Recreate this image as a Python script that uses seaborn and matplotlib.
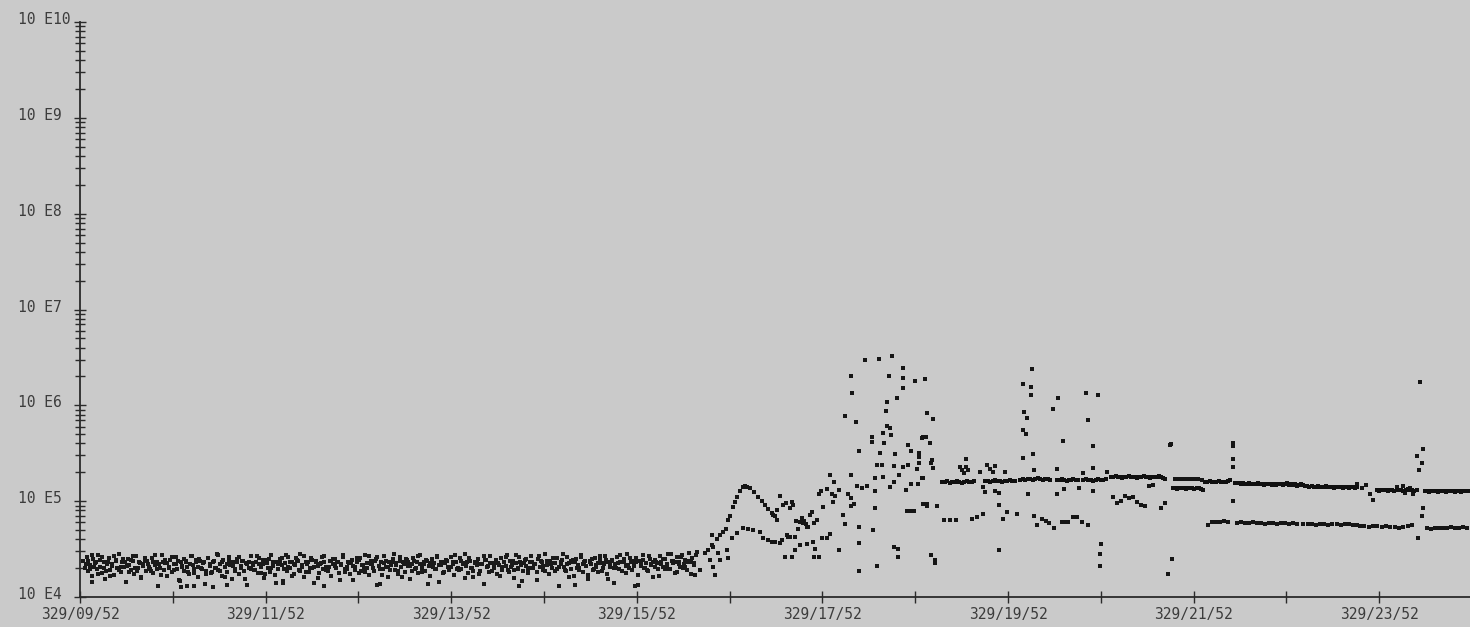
import numpy as np
import pandas as pd
import matplotlib
matplotlib.use('Agg')
import matplotlib.pyplot as plt
import matplotlib.transforms as mtransforms
import seaborn as sns
from matplotlib.ticker import FixedLocator, LogLocator, NullFormatter

# ---------------------------------------------------------------------------
# data: time in hours of day 329, flux stored as log10 exponents
# ---------------------------------------------------------------------------
t_first = 9 + 52 / 60
hour_labels = ['329/09/52', '', '329/11/52', '', '329/13/52', '', '329/15/52', '',
               '329/17/52', '', '329/19/52', '', '329/21/52', '', '329/23/52']
decade_labels = ['10 E4', '10 E5', '10 E6', '10 E7', '10 E8', '10 E9', '10 E10']

# quiet background band 09:54 - 16:31 (two interleaved channels)
quiet_log = [
    4.38, 4.30, 4.42, 4.27, 4.33, 4.22, 4.40, 4.35, 4.29, 4.44, 4.31, 4.25, 4.37, 4.19, 4.34, 4.41, 4.28, 4.32, 4.23, 4.39,
    4.30, 4.45, 4.26, 4.36, 4.31, 4.16, 4.40, 4.33, 4.28, 4.38, 4.24, 4.43, 4.30, 4.35, 4.21, 4.32, 4.39, 4.27, 4.34, 4.29,
    4.41, 4.25, 4.33, 4.37, 4.12, 4.30, 4.44, 4.28, 4.35, 4.22, 4.31, 4.39, 4.26, 4.34, 4.42, 4.29, 4.18, 4.36, 4.32, 4.27,
    4.38, 4.31, 4.24, 4.43, 4.33, 4.29, 4.36, 4.21, 4.40, 4.30, 4.35, 4.14, 4.27, 4.41, 4.32, 4.25, 4.37, 4.30, 4.45, 4.28,
    4.34, 4.22, 4.39, 4.31, 4.26, 4.42, 4.33, 4.19, 4.36, 4.29, 4.40, 4.24, 4.32, 4.38, 4.27, 4.35, 4.13, 4.30, 4.43, 4.33,
    4.28, 4.37, 4.25, 4.41, 4.31, 4.34, 4.20, 4.39, 4.30, 4.26, 4.44, 4.32, 4.23, 4.36, 4.29, 4.40, 4.33, 4.17, 4.35, 4.27,
    4.42, 4.30, 4.36, 4.24, 4.33, 4.39, 4.28, 4.45, 4.31, 4.21, 4.37, 4.34, 4.26, 4.41, 4.30, 4.15, 4.38, 4.32, 4.25, 4.35,
    4.29, 4.43, 4.31, 4.27, 4.38, 4.22, 4.34, 4.40, 4.30, 4.36, 4.18, 4.33, 4.42, 4.26, 4.31, 4.37, 4.24, 4.39, 4.32, 4.28,
    4.36, 4.25, 4.41, 4.33, 4.29, 4.44, 4.30, 4.23, 4.38, 4.34, 4.27, 4.40, 4.13, 4.32, 4.36, 4.29, 4.43, 4.31, 4.21, 4.37,
    4.33, 4.40, 4.28, 4.35, 4.24, 4.42, 4.31, 4.37, 4.26, 4.39, 4.32, 4.19, 4.34, 4.41, 4.29, 4.36, 4.25, 4.44, 4.30, 4.34,
    4.27, 4.38, 4.32, 4.22, 4.40, 4.35, 4.29, 4.43, 4.16, 4.33, 4.37, 4.26, 4.39, 4.31, 4.28, 4.42, 4.34, 4.23, 4.36, 4.30,
    4.41, 4.29, 4.35, 4.45, 4.32, 4.25, 4.38, 4.30, 4.21, 4.36, 4.33, 4.40, 4.27, 4.34, 4.14, 4.39, 4.31, 4.26, 4.43, 4.35,
    4.30, 4.37, 4.24, 4.33, 4.41, 4.28, 4.36, 4.32, 4.44, 4.26, 4.31, 4.38, 4.20, 4.35, 4.29, 4.42, 4.33, 4.27, 4.39, 4.32,
    4.25, 4.36, 4.43, 4.30, 4.34, 4.18, 4.40, 4.31, 4.37, 4.28, 4.45, 4.33, 4.24, 4.38, 4.30, 4.35, 4.27, 4.41, 4.12, 4.34,
    4.39, 4.31, 4.27, 4.42, 4.35, 4.29, 4.37, 4.22, 4.40, 4.33, 4.30, 4.44, 4.26, 4.36, 4.32, 4.19, 4.38, 4.34, 4.28, 4.41,
    4.33, 4.26, 4.40, 4.35, 4.30, 4.43, 4.24, 4.37, 4.31, 4.39, 4.15, 4.34, 4.42, 4.29, 4.36, 4.27, 4.40, 4.32, 4.45, 4.30,
    4.37, 4.28, 4.34, 4.41, 4.23, 4.38, 4.32, 4.44, 4.30, 4.35, 4.27, 4.40, 4.33, 4.21, 4.39, 4.36, 4.29, 4.43, 4.34, 4.31,
    4.40, 4.33, 4.45, 4.29, 4.38, 4.35, 4.25, 4.42, 4.37, 4.31, 4.44, 4.34, 4.39, 4.28, 4.46, 4.36, 4.41, 4.33, 4.44, 4.47,
]
quiet_log_b = [
    4.34, 4.38, 4.29, 4.44, 4.31, 4.36, 4.24, 4.39, 4.42, 4.30, 4.27, 4.37, 4.22, 4.34, 4.43, 4.38, 4.28, 4.31, 4.40, 4.36,
    4.32, 4.26, 4.39, 4.43, 4.30, 4.27, 4.36, 4.20, 4.34, 4.41, 4.38, 4.31, 4.27, 4.36, 4.44, 4.29, 4.34, 4.23, 4.37, 4.39,
    4.35, 4.30, 4.42, 4.28, 4.34, 4.38, 4.17, 4.31, 4.40, 4.37, 4.26, 4.34, 4.43, 4.25, 4.39, 4.31, 4.38, 4.29, 4.36, 4.24,
    4.41, 4.34, 4.26, 4.38, 4.30, 4.44, 4.27, 4.36, 4.21, 4.34, 4.39, 4.37, 4.32, 4.27, 4.36, 4.42, 4.30, 4.38, 4.19, 4.34,
    4.37, 4.29, 4.35, 4.28, 4.43, 4.34, 4.25, 4.39, 4.24, 4.35, 4.40, 4.30, 4.36, 4.15, 4.34, 4.38, 4.41, 4.29, 4.44, 4.31,
    4.36, 4.22, 4.34, 4.41, 4.38, 4.27, 4.33, 4.43, 4.26, 4.36, 4.30, 4.39, 4.31, 4.37, 4.20, 4.34, 4.42, 4.36, 4.28, 4.31,
    4.38, 4.40, 4.32, 4.36, 4.25, 4.34, 4.44, 4.29, 4.29, 4.35, 4.37, 4.18, 4.31, 4.41, 4.39, 4.27, 4.33, 4.26, 4.35, 4.43,
    4.34, 4.30, 4.38, 4.42, 4.29, 4.23, 4.35, 4.38, 4.31, 4.28, 4.36, 4.45, 4.33, 4.27, 4.38, 4.21, 4.34, 4.40, 4.36, 4.32,
    4.27, 4.38, 4.30, 4.43, 4.34, 4.26, 4.36, 4.39, 4.14, 4.35, 4.31, 4.29, 4.42, 4.33, 4.37, 4.25, 4.35, 4.38, 4.30, 4.31,
    4.36, 4.44, 4.29, 4.28, 4.38, 4.34, 4.20, 4.36, 4.41, 4.30, 4.27, 4.35, 4.37, 4.24, 4.34, 4.43, 4.39, 4.32, 4.35, 4.27,
    4.33, 4.39, 4.35, 4.22, 4.31, 4.36, 4.42, 4.28, 4.38, 4.33, 4.28, 4.44, 4.30, 4.36, 4.17, 4.35, 4.40, 4.29, 4.30, 4.37,
    4.34, 4.26, 4.43, 4.38, 4.32, 4.27, 4.38, 4.24, 4.34, 4.41, 4.35, 4.29, 4.31, 4.36, 4.45, 4.28, 4.34, 4.21, 4.38, 4.39,
    4.36, 4.30, 4.28, 4.42, 4.34, 4.38, 4.23, 4.36, 4.40, 4.29, 4.31, 4.35, 4.43, 4.27, 4.34, 4.39, 4.19, 4.35, 4.38, 4.30,
    4.30, 4.35, 4.44, 4.27, 4.36, 4.25, 4.33, 4.41, 4.38, 4.32, 4.36, 4.13, 4.34, 4.39, 4.30, 4.28, 4.43, 4.34, 4.37, 4.31,
    4.35, 4.22, 4.36, 4.40, 4.29, 4.34, 4.29, 4.45, 4.38, 4.36, 4.26, 4.34, 4.42, 4.30, 4.31, 4.36, 4.38, 4.24, 4.35, 4.44,
]
quiet_start, quiet_end = 9.90, 16.52
quiet_b_start, quiet_b_end = 9.93, 16.50
quiet_low_t = [10.00, 10.95, 11.02, 11.10, 11.30, 11.45, 12.50, 13.10, 14.60, 15.20, 15.85, 12.05]
quiet_low_log = [4.16, 4.10, 4.12, 4.11, 4.10, 4.13, 4.12, 4.14, 4.11, 4.13, 4.12, 4.15]

# onset bump around 17:00 (upper curve, lower curve, strays)
onset_t = [16.602, 16.634, 16.677, 16.731, 16.763, 16.796, 16.828, 16.850, 16.871, 16.904,
           16.925, 16.947, 16.979, 17.011, 17.033, 17.054, 17.087, 17.130, 17.173, 17.216,
           17.249, 17.281, 17.324, 17.356, 17.378,
           16.893, 16.947, 17.011, 17.065, 17.119, 17.195, 17.227, 17.281, 17.356, 17.410,
           17.486, 17.518,
           16.656, 16.677, 16.688, 16.688, 16.710, 16.742, 16.763, 16.839, 16.850, 16.548, 16.494]
onset_log = [4.459, 4.491, 4.543, 4.605, 4.647, 4.678, 4.710, 4.804, 4.845, 4.939,
             4.992, 5.044, 5.106, 5.148, 5.159, 5.148, 5.138, 5.096, 5.044, 5.002,
             4.960, 4.919, 4.877, 4.845, 4.908,
             4.616, 4.668, 4.720, 4.710, 4.699, 4.678, 4.616, 4.595, 4.574, 4.564,
             4.647, 4.626,
             4.386, 4.647, 4.522, 4.313, 4.230, 4.459, 4.386, 4.491, 4.407, 4.282, 4.230]

# disturbed interval 17:20 - 19:05
storm_t = [18.326, 18.477, 18.617, 18.175, 18.585, 18.735, 18.735, 18.865, 18.972, 18.735,
           18.186, 18.671, 18.563, 18.552, 18.994, 19.059, 18.110, 18.229, 18.563, 18.595,
           18.520, 18.606, 18.401, 18.401, 18.531, 18.940, 18.983, 19.026, 18.789, 18.261,
           18.488, 18.649, 18.822, 18.908, 18.908, 18.455, 18.509, 18.638, 18.735, 18.789,
           18.886, 18.908, 19.037, 17.949, 18.175, 18.692, 18.434, 18.520, 18.951, 17.992,
           18.240, 18.348, 18.294, 18.434, 18.595, 18.638, 18.822, 18.897, 18.768, 17.852,
           17.830, 17.916, 17.970, 18.175, 18.175, 18.207, 17.873, 18.434, 18.778, 18.822,
           18.854, 17.755, 17.733, 18.089, 18.110, 18.261, 18.412, 18.261, 18.046, 18.261,
           18.455, 18.638, 18.682, 18.682, 17.809, 17.776, 17.658, 17.582, 17.626, 17.701,
           17.604, 17.863, 17.949, 17.916, 17.766, 17.701, 17.626, 17.572, 17.787, 17.830,
           17.776, 17.539, 17.464, 17.496, 17.572, 17.432, 17.324, 17.378, 17.335, 17.442,
           17.539, 17.518, 17.410, 17.475, 17.550, 17.669, 17.690, 17.712, 17.647, 17.980,
           18.002, 18.046, 18.143, 18.950, 18.990]
storm_log = [6.474, 6.484, 6.516, 6.307, 6.307, 6.390, 6.286, 6.255, 6.276, 6.182,
             6.129, 6.077, 6.035, 5.941, 5.921, 5.858, 5.889, 5.827, 5.785, 5.764,
             5.712, 5.691, 5.670, 5.618, 5.607, 5.660, 5.670, 5.607, 5.587, 5.524,
             5.503, 5.493, 5.524, 5.503, 5.461, 5.378, 5.378, 5.367, 5.357, 5.378,
             5.336, 5.399, 5.399, 5.273, 5.273, 5.273, 5.242, 5.253, 5.242, 5.200,
             5.159, 5.159, 5.138, 5.106, 5.148, 5.200, 5.180, 5.180, 5.117, 5.106,
             5.075, 5.127, 5.075, 5.033, 4.950, 4.971, 4.939, 4.929, 4.898, 4.898,
             4.898, 4.887, 4.856, 4.856, 4.762, 4.731, 4.699, 4.564, 4.491, 4.271,
             4.324, 4.522, 4.501, 4.418, 4.804, 4.772, 4.772, 4.793, 4.783, 4.731,
             4.710, 4.616, 4.658, 4.616, 4.574, 4.553, 4.543, 4.491, 4.501, 4.418,
             4.418, 4.418, 4.418, 4.626, 4.626, 4.595, 4.574, 4.804, 4.856, 4.960,
             4.992, 4.929, 5.054, 4.980, 4.960, 4.790, 4.760, 4.730, 4.820, 4.990,
             5.050, 5.120, 5.070, 4.970, 4.950]

# strays and spikes after 19:00
late_t = [18.940, 19.048, 19.059, 18.951, 19.037, 19.080, 19.080, 19.770, 19.770, 19.770,
          19.727, 19.619, 19.598, 19.102, 18.994, 20.082, 20.395, 20.470, 20.783, 20.632,
          21.387, 21.430, 19.350, 19.371, 19.393, 19.415, 19.436, 19.415, 19.641, 19.673,
          19.705, 19.727, 19.565, 19.835, 20.147, 20.395, 20.675, 20.783, 20.934,
          20.125, 20.028, 20.115, 20.115, 20.039, 20.071, 20.028, 20.060, 20.028, 20.136,
          20.406, 20.352, 20.460, 20.707, 20.837, 20.729, 20.783, 20.869, 20.858, 20.858,
          21.613, 21.623, 21.591, 21.634,
          22.291, 22.291, 22.291, 22.291, 22.291,
          23.630, 23.680, 23.720, 23.770, 23.800, 24.060, 24.120, 24.140, 24.200, 24.230,
          24.306, 24.339, 24.274, 24.328, 24.296, 24.339, 24.328, 24.285]
late_log = [5.242, 5.430, 5.347, 5.670, 4.438, 4.386, 4.355, 4.491, 4.960, 5.086,
            5.106, 5.096, 5.148, 4.950, 4.971, 5.075, 5.075, 5.127, 5.106, 5.138,
            5.159, 5.169, 5.357, 5.326, 5.294, 5.357, 5.326, 5.440, 5.378, 5.336,
            5.305, 5.367, 5.305, 5.305, 5.326, 5.336, 5.294, 5.347, 5.305,
            6.380, 6.223, 6.192, 6.108, 5.931, 5.868, 5.743, 5.701, 5.451, 5.493,
            6.077, 5.962, 5.628, 6.129, 6.108, 5.848, 5.576, 4.553, 4.449, 4.324,
            5.587, 5.597, 4.240, 4.397,
            5.607, 5.576, 5.440, 5.357, 5.002,
            5.180, 5.140, 5.170, 5.070, 5.010, 5.150, 5.160, 5.080, 5.140, 5.070,
            6.244, 5.545, 5.472, 5.399, 5.326, 4.929, 4.845, 4.616]

# secondary (lower) channel 19:00 - 21:35
low_t = [19.177, 19.242, 19.307, 19.479, 19.533, 19.598, 19.813, 19.856, 19.964, 20.147,
         20.179, 20.233, 20.276, 20.309, 20.363, 20.449, 20.482, 20.514, 20.568, 20.610,
         20.664, 20.729, 20.998, 21.041, 21.084, 21.128, 21.171, 21.214, 21.257, 21.300,
         21.343, 21.516, 21.559]
low_log = [4.80, 4.80, 4.80, 4.81, 4.84, 4.87, 4.81, 4.89, 4.87, 4.85,
           4.75, 4.81, 4.79, 4.77, 4.72, 4.78, 4.78, 4.78, 4.84, 4.84,
           4.78, 4.75, 5.04, 4.98, 5.00, 5.05, 5.03, 5.04, 4.99, 4.96,
           4.95, 4.93, 4.98]

# main plateau runs (start hour, end hour, values)
run_a1 = (19.16, 19.50, [5.20, 5.20, 5.21, 5.19, 5.20, 5.20, 5.21, 5.20, 5.19, 5.20, 5.21, 5.20, 5.20, 5.21])
run_a2 = (19.62, 19.94, [5.21, 5.21, 5.20, 5.21, 5.22, 5.21, 5.21, 5.20, 5.21, 5.21, 5.22, 5.21, 5.21])
run_a3 = (20.00, 20.32, [5.22, 5.23, 5.22, 5.23, 5.23, 5.22, 5.23, 5.24, 5.23, 5.22, 5.23, 5.23, 5.22])
run_a4 = (20.40, 20.62, [5.22, 5.22, 5.23, 5.22, 5.21, 5.22, 5.22, 5.23, 5.22, 5.22])
run_a5 = (20.68, 20.92, [5.22, 5.23, 5.22, 5.22, 5.21, 5.22, 5.23, 5.22, 5.22, 5.23])
run_a6 = (20.98, 21.56, [5.25, 5.25, 5.26, 5.25, 5.25, 5.24, 5.25, 5.25, 5.26, 5.25, 5.25, 5.25, 5.24,
                         5.25, 5.25, 5.26, 5.25, 5.25, 5.24, 5.25, 5.25, 5.25, 5.26, 5.25, 5.24, 5.23])
run_b = (21.64, 21.97, [5.14, 5.14, 5.13, 5.14, 5.14, 5.14, 5.13, 5.14, 5.14, 5.14, 5.13, 5.14, 5.14, 5.13, 5.12])
run_c = (21.99, 22.26, [5.20, 5.20, 5.21, 5.20, 5.20, 5.20, 5.21, 5.20, 5.20, 5.20, 5.21, 5.22])
run_d = (22.31, 23.05, [5.19, 5.19, 5.19, 5.18, 5.19, 5.18, 5.18, 5.19, 5.18, 5.18, 5.18, 5.19, 5.18, 5.18,
                        5.17, 5.18, 5.18, 5.18, 5.17, 5.18, 5.17, 5.18, 5.18, 5.17, 5.18, 5.19, 5.17, 5.18,
                        5.17, 5.18, 5.16, 5.17, 5.18, 5.17])
run_e = (23.07, 23.63, [5.16, 5.16, 5.15, 5.16, 5.15, 5.15, 5.16, 5.15, 5.15, 5.15, 5.16, 5.15, 5.15,
                        5.15, 5.14, 5.15, 5.15, 5.15, 5.14, 5.15, 5.15, 5.14, 5.15, 5.15, 5.14, 5.15])
run_f = (23.84, 24.27, [5.12, 5.11, 5.12, 5.12, 5.12, 5.11, 5.12, 5.12, 5.11, 5.12, 5.12, 5.12, 5.11,
                        5.12, 5.13, 5.12, 5.12, 5.11, 5.12])
run_g = (24.36, 24.82, [5.11, 5.11, 5.10, 5.11, 5.11, 5.11, 5.10, 5.11, 5.11, 5.11, 5.10, 5.11, 5.11,
                        5.11, 5.10, 5.11, 5.11, 5.10, 5.11, 5.11, 5.11])

# sparse dotted runs
dot_b = (21.67, 21.96, [5.23, 5.23, 5.23, 5.23, 5.23, 5.23, 5.23, 5.22])
dot_l1 = (22.02, 22.24, [4.75, 4.78, 4.78, 4.78, 4.79, 4.78])
dot_l2 = (22.33, 22.98, [4.77, 4.78, 4.77, 4.77, 4.78, 4.77, 4.77, 4.76, 4.77, 4.77, 4.76, 4.77, 4.77, 4.76, 4.77, 4.76])
dot_l3 = (23.05, 23.63, [4.76, 4.76, 4.76, 4.75, 4.76, 4.76, 4.75, 4.76, 4.76, 4.75, 4.76, 4.76, 4.75, 4.75])
dot_l4 = (23.66, 24.22, [4.74, 4.74, 4.73, 4.74, 4.74, 4.73, 4.74, 4.73, 4.73, 4.72, 4.73, 4.74, 4.75])
dot_l5 = (24.38, 24.81, [4.72, 4.71, 4.72, 4.72, 4.72, 4.72, 4.73, 4.72, 4.72, 4.73, 4.72])


def run_frame(run):
    t0, t1, vals = run
    return pd.DataFrame({'hour': np.linspace(t0, t1, len(vals)), 'flux': 10.0 ** np.array(vals)})


def pts_frame(ts, logs):
    return pd.DataFrame({'hour': ts, 'flux': 10.0 ** np.array(logs)})


quiet_df = pd.concat([run_frame((quiet_start, quiet_end, quiet_log)),
                      run_frame((quiet_b_start, quiet_b_end, quiet_log_b)),
                      pts_frame(quiet_low_t, quiet_low_log)], ignore_index=True)
scatter_df = pd.concat([pts_frame(onset_t, onset_log), pts_frame(storm_t, storm_log),
                        pts_frame(late_t, late_log), pts_frame(low_t, low_log)] +
                       [run_frame(r) for r in (dot_b, dot_l1, dot_l2, dot_l3, dot_l4, dot_l5)],
                       ignore_index=True)
plateau_df = pd.concat([run_frame(r) for r in (run_a1, run_a2, run_a3, run_a4, run_a5, run_a6,
                                                run_b, run_c, run_d, run_e, run_f, run_g)],
                       ignore_index=True)

# ---------------------------------------------------------------------------
# plot
# ---------------------------------------------------------------------------
bg = '#cacaca'
ink = '#2a2a2a'
txt = '#3c3c3c'

sns.set_style('ticks')
plt.rcParams['font.family'] = ['DejaVu Sans Mono']

fig = plt.figure(figsize=(14.7, 6.27), dpi=100, facecolor=bg)
ax = fig.add_axes([80 / 1470, 30 / 627, 1390 / 1470, 575 / 627])
ax.set_facecolor(bg)

sns.scatterplot(data=quiet_df, x='hour', y='flux', ax=ax, s=5, marker='s',
                color='#1a1a1a', linewidth=0, legend=False)
sns.scatterplot(data=scatter_df, x='hour', y='flux', ax=ax, s=7, marker='s',
                color='#151515', linewidth=0, legend=False)
sns.scatterplot(data=plateau_df, x='hour', y='flux', ax=ax, s=12, marker='s',
                color='#101010', linewidth=0, legend=False)

ax.set_yscale('log')
ax.set_ylim(1e4, 1e10)
ax.set_xlim(t_first, t_first + 1390 / 92.8)

ax.yaxis.set_major_locator(FixedLocator([10.0 ** k for k in range(4, 11)]))
ax.yaxis.set_minor_locator(LogLocator(base=10, subs=np.arange(2, 10)))
ax.yaxis.set_minor_formatter(NullFormatter())
ax.set_yticklabels(decade_labels)
ax.set_xticks([t_first + h for h in range(len(hour_labels))])
ax.set_xticklabels(hour_labels)

ax.tick_params(axis='both', which='both', direction='inout', color=ink, width=1.0,
               labelcolor=txt, labelsize=10.5)
ax.tick_params(axis='y', which='major', length=8, pad=40.5)
ax.tick_params(axis='y', which='minor', length=7)
ax.tick_params(axis='x', which='major', length=8, pad=3)

# decade labels sit left-aligned and a few pixels above their ticks
lift = mtransforms.ScaledTranslation(0, 4 / 100, fig.dpi_scale_trans)
for lab in ax.get_yticklabels():
    lab.set_horizontalalignment('left')
    lab.set_transform(lab.get_transform() + lift)

for side in ('top', 'right'):
    ax.spines[side].set_visible(False)
for side in ('left', 'bottom'):
    ax.spines[side].set_color(ink)
    ax.spines[side].set_linewidth(1.3)

ax.set_xlabel('')
ax.set_ylabel('')
ax.grid(False)

fig.savefig('out.png', dpi=100, facecolor=bg)
